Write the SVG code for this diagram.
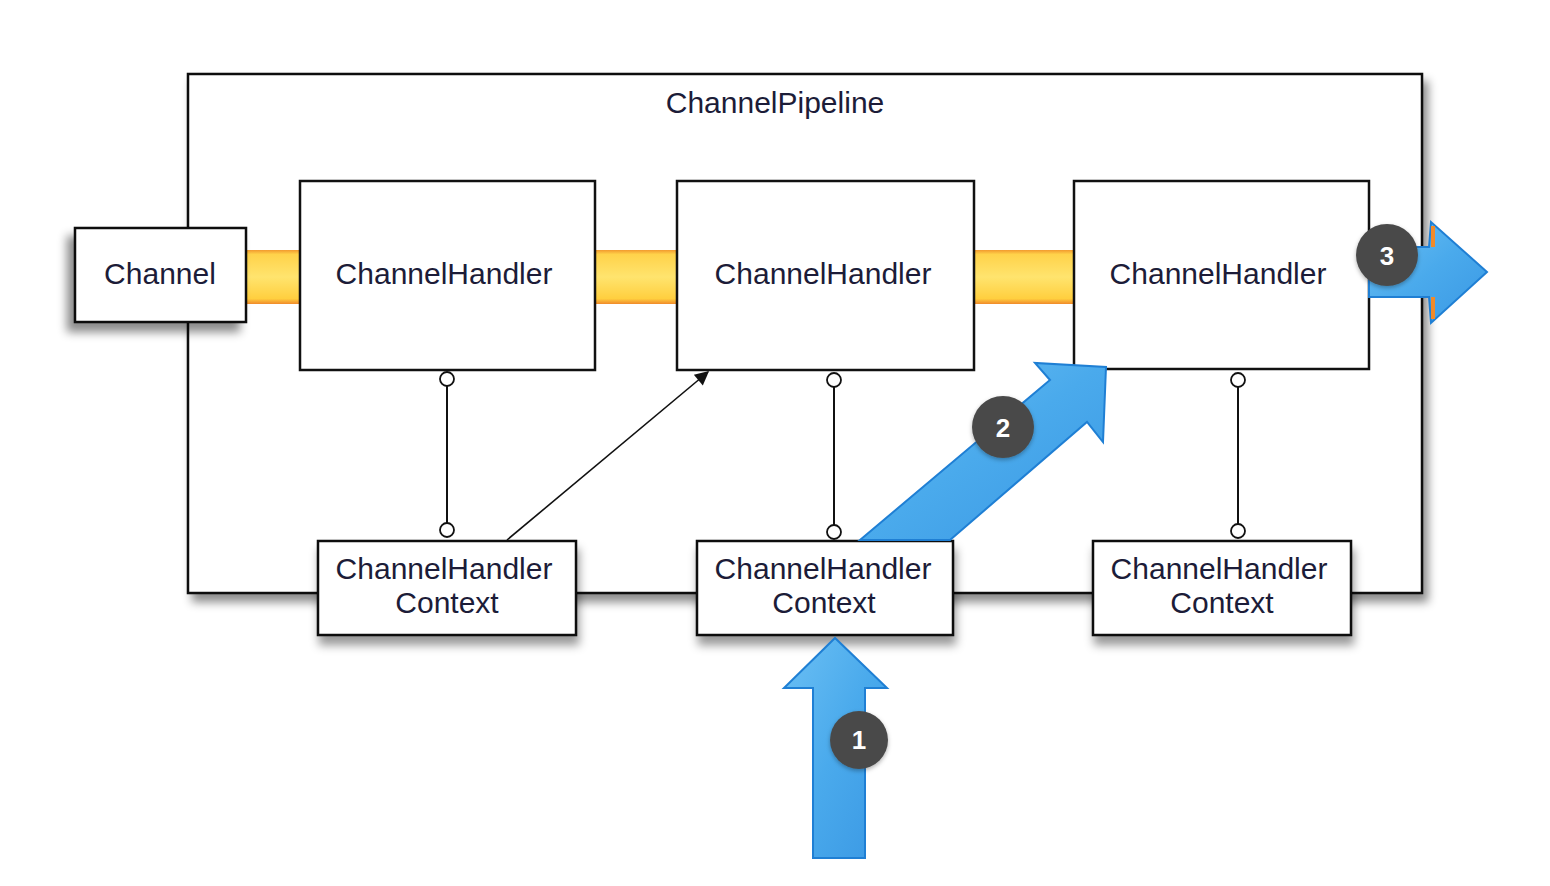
<svg xmlns="http://www.w3.org/2000/svg" width="1550" height="886" viewBox="0 0 1550 886">
  <style>
    .box { fill: #ffffff; stroke: #111111; stroke-width: 2.5; }
    .lbl { font-family: "Liberation Sans", Arial, sans-serif; font-size: 30px; fill: #1c1c38; text-anchor: middle; }
    .num { font-family: "Liberation Sans", Arial, sans-serif; font-size: 26px; font-weight: bold; fill: #ffffff; text-anchor: middle; }
    .badge { fill: #4a4a4a; }
    .link { stroke: #111111; stroke-width: 2; fill: none; }
    .knob { fill: #ffffff; stroke: #111111; stroke-width: 1.8; }
    .blue { fill: url(#blueGrad); stroke: #1f7fd4; stroke-width: 2; }
  </style>
  <defs>
    <filter id="shadowR" x="-10%" y="-10%" width="130%" height="130%">
      <feDropShadow dx="5" dy="8" stdDeviation="5" flood-color="#000000" flood-opacity="0.45"/>
    </filter>
    <filter id="shadowL" x="-20%" y="-20%" width="140%" height="150%">
      <feDropShadow dx="-7" dy="9" stdDeviation="5" flood-color="#000000" flood-opacity="0.45"/>
    </filter>
    <filter id="shadowB" x="-10%" y="-20%" width="120%" height="160%">
      <feDropShadow dx="2" dy="9" stdDeviation="5" flood-color="#000000" flood-opacity="0.4"/>
    </filter>
    <filter id="badgeShadow" x="-30%" y="-30%" width="160%" height="160%">
      <feDropShadow dx="0" dy="2" stdDeviation="2" flood-color="#000000" flood-opacity="0.3"/>
    </filter>
    <linearGradient id="yellowGrad" x1="0" y1="0" x2="0" y2="1">
      <stop offset="0" stop-color="#f29a2e"/>
      <stop offset="0.08" stop-color="#ffd24a"/>
      <stop offset="0.5" stop-color="#ffe46e"/>
      <stop offset="0.9" stop-color="#ffcf3f"/>
      <stop offset="1" stop-color="#f08a2a"/>
    </linearGradient>
    <linearGradient id="blueGrad" x1="0" y1="0" x2="1" y2="1">
      <stop offset="0" stop-color="#6cc0f4"/>
      <stop offset="0.5" stop-color="#4aaaec"/>
      <stop offset="1" stop-color="#3a98e4"/>
    </linearGradient>
    <marker id="arrowHead" viewBox="0 0 10 10" refX="9" refY="5" markerWidth="16" markerHeight="14" orient="auto" markerUnits="userSpaceOnUse">
      <path d="M0,0 L10,5 L0,10 z" fill="#111111"/>
    </marker>
  </defs>

  <rect width="1550" height="886" fill="#ffffff"/>

  <g id="pipeline">
    <rect class="box" x="188" y="74" width="1234" height="519" filter="url(#shadowR)"/>
    <text class="lbl" x="775" y="113">ChannelPipeline</text>
  </g>

  <g id="flow-band">
    <rect x="246" y="250" width="830" height="54" fill="url(#yellowGrad)"/>
  </g>

  <g id="channel">
    <rect class="box" x="75" y="228" width="171" height="94" filter="url(#shadowL)"/>
    <text class="lbl" x="160" y="284">Channel</text>
  </g>

  <g id="handler1">
    <rect class="box" x="300" y="181" width="295" height="189"/>
    <text class="lbl" x="444" y="284">ChannelHandler</text>
  </g>
  <g id="handler2">
    <rect class="box" x="677" y="181" width="297" height="189"/>
    <text class="lbl" x="823" y="284">ChannelHandler</text>
  </g>
  <g id="handler3">
    <rect class="box" x="1074" y="181" width="295" height="188"/>
    <text class="lbl" x="1218" y="284">ChannelHandler</text>
  </g>

  <g id="context1">
    <rect class="box" x="318" y="541" width="258" height="94" filter="url(#shadowB)"/>
    <text class="lbl" x="444" y="579">ChannelHandler</text>
    <text class="lbl" x="447" y="613">Context</text>
  </g>
  <g id="context2">
    <rect class="box" x="697" y="541" width="256" height="94" filter="url(#shadowB)"/>
    <text class="lbl" x="823" y="579">ChannelHandler</text>
    <text class="lbl" x="824" y="613">Context</text>
  </g>
  <g id="context3">
    <rect class="box" x="1093" y="541" width="258" height="94" filter="url(#shadowB)"/>
    <text class="lbl" x="1219" y="579">ChannelHandler</text>
    <text class="lbl" x="1222" y="613">Context</text>
  </g>

  <g id="connectors">
    <line class="link" x1="447" y1="379" x2="447" y2="530"/>
    <circle class="knob" cx="447" cy="379" r="7"/>
    <circle class="knob" cx="447" cy="530" r="7"/>
    <line class="link" x1="834" y1="380" x2="834" y2="532"/>
    <circle class="knob" cx="834" cy="380" r="7"/>
    <circle class="knob" cx="834" cy="532" r="7"/>
    <line class="link" x1="1238" y1="380" x2="1238" y2="531"/>
    <circle class="knob" cx="1238" cy="380" r="7"/>
    <circle class="knob" cx="1238" cy="531" r="7"/>
    <line x1="507" y1="540" x2="708" y2="372" stroke="#111111" stroke-width="1.6" marker-end="url(#arrowHead)"/>
  </g>

  <g id="flow-arrow-1">
    <polygon class="blue" points="813,858 813,688 784,688 835,638 887,688 865,688 865,858"/>
    <circle class="badge" cx="859" cy="740" r="29" filter="url(#badgeShadow)"/>
    <text class="num" x="859" y="749">1</text>
  </g>

  <g id="flow-arrow-2">
    <polygon class="blue" points="860,540 1050,380 1035,363 1106,367 1103,442 1087,422 950,540"/>
    <circle class="badge" cx="1003" cy="427" r="31" filter="url(#badgeShadow)"/>
    <text class="num" x="1003" y="437">2</text>
  </g>

  <g id="flow-arrow-3">
    <polygon class="blue" points="1369,247 1429,247 1431,222 1487,272 1431,323 1429,297 1369,297"/>
    <line x1="1433" y1="226" x2="1433" y2="247" stroke="#f08a2a" stroke-width="4"/>
    <line x1="1433" y1="297" x2="1433" y2="319" stroke="#f08a2a" stroke-width="4"/>
    <circle class="badge" cx="1387" cy="255" r="31" filter="url(#badgeShadow)"/>
    <text class="num" x="1387" y="265">3</text>
  </g>
</svg>
